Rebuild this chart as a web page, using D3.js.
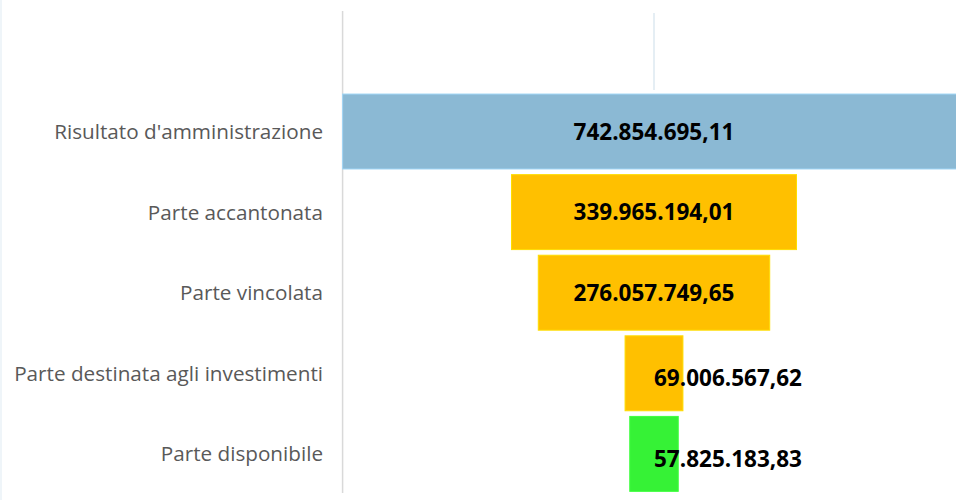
<!DOCTYPE html>
<html>
<head>
<meta charset="utf-8">
<script src="https://cdn.jsdelivr.net/npm/d3@7"></script>
<style>
  html, body { margin: 0; padding: 0; background: #fff; overflow: hidden; }
  svg { display: block; }
</style>
</head>
<body>
<svg id="chart"></svg>
<script>
// data
const categories = [
    "Risultato d'amministrazione",
    "Parte accantonata",
    "Parte vincolata",
    "Parte destinata agli investimenti",
    "Parte disponibile"
];
const values = [742854695.11, 339965194.01, 276057749.65, 69006567.62, 57825183.83];
const colors = ["#8bb9d4", "#ffc000", "#ffc000", "#ffc000", "#36f236"];

const width = 956, height = 500;
const center = 654;

const fmt = v => {
    const parts = v.toFixed(2).split(".");
    return parts[0].replace(/\B(?=(\d{3})+(?!\d))/g, ".") + "," + parts[1];
};

const svg = d3.select("#chart")
    .attr("width", width)
    .attr("height", height);

// scaling: half width of each bar around the centre line
const xscale = d3.scaleLinear()
    .domain([0, d3.max(values)])
    .range([0, 311.4]);

const yscale = d3.scaleBand()
    .domain(categories)
    .range([88.4, 497])
    .padding(0.07);

// faint left border
svg.append("line")
    .attr("x1", 1).attr("x2", 1)
    .attr("y1", 0).attr("y2", height)
    .attr("stroke", "#eaf2f7")
    .attr("stroke-width", 1.5);

// centre gridline (above the first bar only)
svg.append("line")
    .attr("x1", center).attr("x2", center)
    .attr("y1", 13).attr("y2", yscale(categories[0]) - 4)
    .attr("stroke", "#dce8f1")
    .attr("stroke-width", 1.5);

// category axis line
const axisX = center - xscale(d3.max(values));
svg.append("line")
    .attr("x1", axisX).attr("x2", axisX)
    .attr("y1", 11).attr("y2", 493)
    .attr("stroke", "#d9d9d9")
    .attr("stroke-width", 1.5);

// bars
const data = categories.map((c, i) => ({ name: c, value: values[i], color: colors[i] }));

svg.append("g").selectAll("rect")
    .data(data)
    .join("rect")
    .attr("x", d => center - xscale(d.value))
    .attr("y", d => yscale(d.name))
    .attr("width", d => 2 * xscale(d.value))
    .attr("height", yscale.bandwidth())
    .attr("fill", d => d.color)
    .attr("stroke", d => d3.color(d.color).brighter(0.4))
    .attr("stroke-width", 1);

// category labels
svg.append("g").selectAll("text")
    .data(data)
    .join("text")
    .attr("x", 323)
    .attr("y", d => yscale(d.name) + yscale.bandwidth() / 2 + 7.5)
    .attr("text-anchor", "end")
    .attr("font-family", "'Open Sans', sans-serif")
    .attr("font-size", "20.7px")
    .attr("fill", "#595959")
    .text(d => d.name);

// value labels: centred inside wide bars, starting at the centre for narrow ones
const wide = d => xscale(d.value) > 90;
svg.append("g").selectAll("text")
    .data(data)
    .join("text")
    .attr("x", center)
    .attr("y", d => yscale(d.name) + yscale.bandwidth() / 2 + (wide(d) ? 8 : 13))
    .attr("text-anchor", d => wide(d) ? "middle" : "start")
    .attr("font-family", "'Open Sans', sans-serif")
    .attr("font-weight", "bold")
    .attr("font-size", "22.5px")
    .attr("fill", "#000")
    .text(d => fmt(d.value));
</script>
</body>
</html>
